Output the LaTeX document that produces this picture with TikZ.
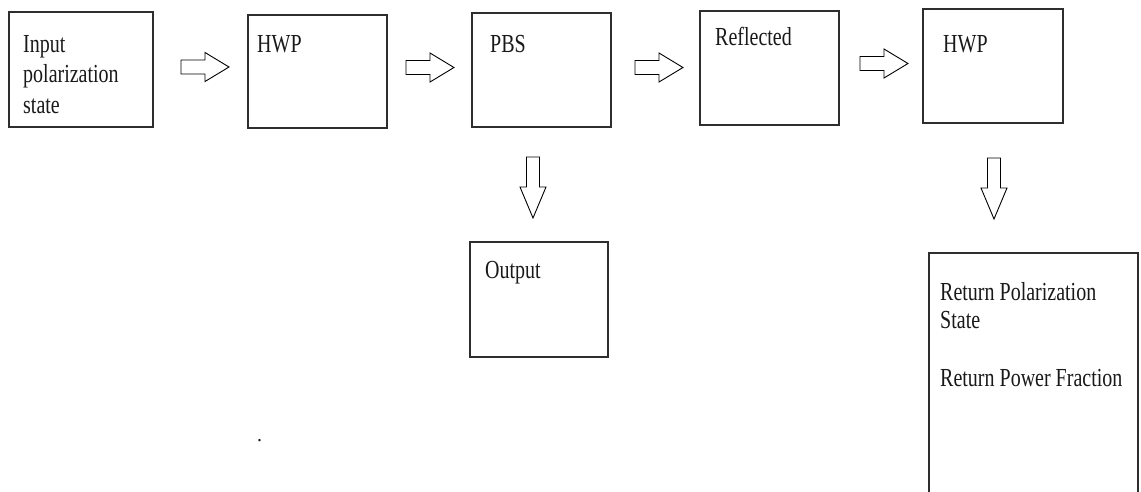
\documentclass[tikz,border=0pt]{standalone}
\usepackage{fontspec}
\usepackage{graphicx}
\setmainfont{Liberation Serif}
\newcommand{\vstretch}[1]{\scalebox{1}[1.3]{#1}}
\tikzset{
  box/.style={draw=black!82, line width=1.4pt, rectangle, inner sep=0pt},
  lbl/.style={inner sep=0pt, anchor=base west, text=black!90, font=\fontsize{20}{23.5}\selectfont},
  arrowline/.style={draw=black, line width=0.9pt, line join=miter},
  rarr/.pic={\path[arrowline] (0,-7) -- (24,-7) -- (24,-14.5) -- (48,0) -- (24,14.5) -- (24,7) -- (0,7) -- cycle;},
  darr/.pic={\path[arrowline] (-6.5,0) -- (-6.5,30) -- (-13,30) -- (0,61) -- (13,30) -- (6.5,30) -- (6.5,0) -- cycle;}
}
\begin{document}
\begin{tikzpicture}[x=1pt,y=-1pt]
\useasboundingbox (0,0) rectangle (1141,491);
\begin{scope}
\clip (0,0) rectangle (1141,491);
% boxes
\node[box, minimum width=144, minimum height=115] (b1) at (81,69.5) {};
\node[box, minimum width=139, minimum height=113] (b2) at (317.5,71.5) {};
\node[box, minimum width=139, minimum height=114] (b3) at (541.5,70) {};
\node[box, minimum width=139, minimum height=114] (b4) at (769.5,68) {};
\node[box, minimum width=140, minimum height=114] (b5) at (993,66) {};
\node[box, minimum width=138, minimum height=115] (b6) at (539,299.5) {};
\node[box, minimum width=209, minimum height=260] (b7) at (1033.5,383) {};
\end{scope}
% labels
\node[lbl] (t1) at (23,52) {\vstretch{\begin{tabular}[t]{@{}l@{}}Input\\polarization\\state\end{tabular}}};
\node[lbl] (t2) at (257,52) {\vstretch{HWP}};
\node[lbl] (t3) at (490,52) {\vstretch{PBS}};
\node[lbl] (t4) at (715,45) {\vstretch{Reflected}};
\node[lbl] (t5) at (943,52) {\vstretch{HWP}};
\node[lbl] (t6) at (485,278) {\vstretch{Output}};
\node[lbl, font=\fontsize{20}{22.3}\selectfont] (t7) at (940,300) {\vstretch{\begin{tabular}[t]{@{}l@{}}Return Polarization\\State\\[0pt]\\Return Power Fraction\end{tabular}}};
\node[lbl] (dot) at (257,441) {.};
% block arrows
\pic (a1) at (181,67) {rarr};
\pic (a2) at (406,67.5) {rarr};
\pic (a3) at (635,67.5) {rarr};
\pic (a4) at (860,63.5) {rarr};
\pic (a5) at (533,157) {darr};
\pic (a6) at (994,158) {darr};
\end{tikzpicture}
\end{document}
